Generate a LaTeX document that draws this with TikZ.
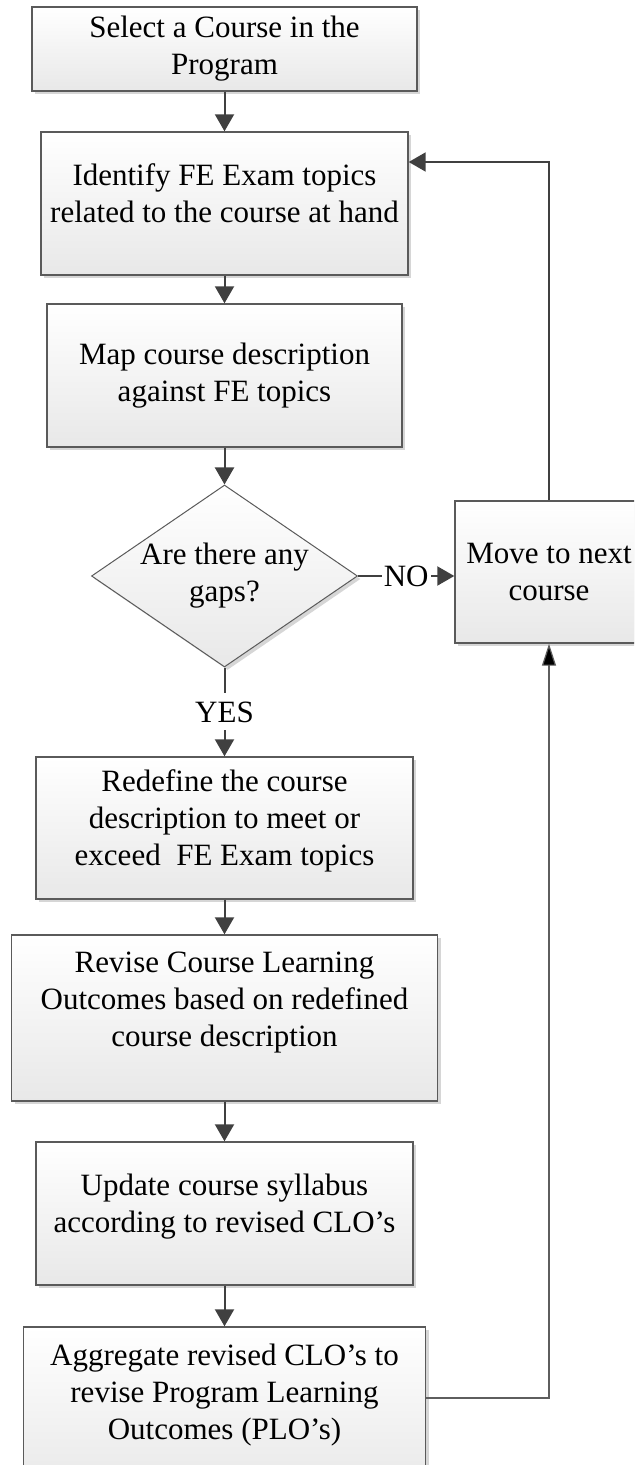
\documentclass[tikz,border=0pt]{standalone}
\usepackage{fontspec}
\setmainfont{Liberation Serif}
\usepackage{xcolor}
\usepackage{tikz}
\usetikzlibrary{arrows.meta,shapes.geometric,shadows}

\definecolor{boxline}{HTML}{5A5A5A}
\definecolor{boxfill}{HTML}{E8E8E8}
\definecolor{shadowgray}{HTML}{D6D6D6}
\definecolor{arrowgray}{HTML}{404040}
\definecolor{backgray}{HTML}{5E5E5E}

\newcommand{\padline}[1][0pt]{\\[#1]\mbox{}}

\tikzset{
  stepbox/.style={draw=boxline, line width=0.7pt, top color=white, bottom color=boxfill,
    align=center, inner sep=0pt, font=\fontsize{15.5}{18.5}\selectfont,
    drop shadow={shadow xshift=1.5pt, shadow yshift=-1.5pt, fill=shadowgray, opacity=1}},
  gapdiamond/.style={stepbox, diamond, shape aspect=1.46, line width=0.5pt},
  flow/.style={draw=arrowgray, line width=1pt, -{Triangle[length=8.5pt,width=9.5pt]}},
  back/.style={draw=backgray, line width=0.6pt, -{Triangle[length=11pt,width=7pt,fill=black]}},
  tag/.style={fill=white, inner xsep=1pt, inner ysep=4pt, font=\fontsize{15.5}{18.5}\selectfont}
}

\begin{document}
\begin{tikzpicture}[x=0.5pt,y=-0.5pt]
    % picture frame
    \path[use as bounding box, clip] (0,0) rectangle (634,1465);
    % define coordinates
    \coordinate (loop) at (549,162);
    \coordinate (ret) at (549,1398);
    % steps
    \node[stepbox, minimum width=192.5pt, minimum height=42pt] (sel) at (224.5,49)
        {Select a Course in the\\Program};
    \node[stepbox, minimum width=183.5pt, minimum height=71.5pt] (ident) at (224.5,203.5)
        {Identify FE Exam topics\\related to the course at hand\padline[-8pt]};
    \node[stepbox, minimum width=177.5pt, minimum height=71.5pt] (map) at (224.5,375.5)
        {Map course description\\against FE topics};
    \node[gapdiamond, minimum width=133pt, minimum height=91pt] (gaps) at (224.5,576)
        {Are there any\\gaps?};
    \node[stepbox, minimum width=94pt, minimum height=71pt] (move) at (549,572)
        {Move to next\\course};
    \node[stepbox, minimum width=188.5pt, minimum height=71pt] (redef) at (224.5,828)
        {Redefine the course\\description to meet or\\exceed~\ FE Exam topics\padline[-8pt]};
    \node[stepbox, minimum width=213pt, minimum height=83pt] (revise) at (224.5,1018)
        {Revise Course Learning\\Outcomes based on redefined\\course description\padline};
    \node[stepbox, minimum width=188.5pt, minimum height=71.5pt] (update) at (224.5,1213.5)
        {Update course syllabus\\according to revised CLO’s\padline[-8pt]};
    \node[stepbox, minimum width=201pt, minimum height=83pt] (aggr) at (224.5,1410)
        {Aggregate revised CLO’s to\\revise Program Learning\\Outcomes (PLO’s)\padline};
    % main flow
    \draw[flow] (sel) -- (ident);
    \draw[flow] (ident) -- (map);
    \draw[flow] (map) -- (gaps);
    \draw[flow] (gaps) -- node[tag] {YES} (redef);
    \draw[flow] (gaps.east) -- node[tag] {NO} (gaps.east -| move.west);
    \draw[flow] (redef) -- (revise);
    \draw[flow] (revise) -- (update);
    \draw[flow] (update) -- (aggr);
    % loops back
    \draw[flow] (move) -- (loop) -- (ident.east |- loop);
    \draw[back] (aggr.east |- ret) -- (ret) -- (move);
\end{tikzpicture}
\end{document}
